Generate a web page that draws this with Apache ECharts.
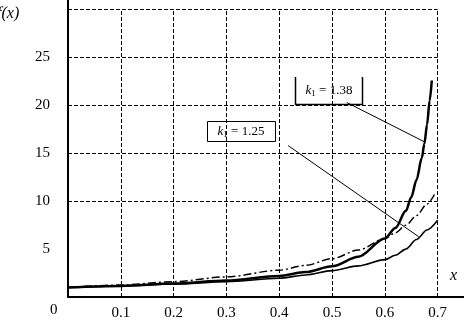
<!DOCTYPE html>
<html>
<head>
<meta charset="utf-8">
<script src="https://cdn.jsdelivr.net/npm/echarts@6/dist/echarts.min.js"></script>
<style>
html, body { margin: 0; padding: 0; background: #fff; }
#chart { width: 464px; height: 321px; }
</style>
</head>
<body>
<div id="chart"></div>
<script>
// curve k1 = 1.38 (thick)
var xA = [0, 0.1, 0.2, 0.3, 0.4, 0.45, 0.5, 0.55, 0.6, 0.62, 0.64, 0.65, 0.66, 0.67, 0.675, 0.68, 0.685, 0.689];
var yA = [1, 1.16, 1.4, 1.72, 2.2, 2.6, 3.2, 4.2, 6.1, 7.2, 9.0, 10.4, 12.2, 14.5, 16, 18, 20.5, 22.6];
// curve k1 = 1.25 (thin)
var xB = [0, 0.1, 0.2, 0.3, 0.4, 0.45, 0.5, 0.55, 0.6, 0.62, 0.64, 0.66, 0.68, 0.7];
var yB = [1, 1.15, 1.35, 1.6, 1.95, 2.3, 2.75, 3.25, 3.9, 4.35, 5.0, 6.0, 7.0, 8.0];
// dash-dot curve
var xC = [0, 0.1, 0.2, 0.3, 0.4, 0.45, 0.5, 0.55, 0.6, 0.62, 0.64, 0.66, 0.68, 0.694];
var yC = [1, 1.25, 1.6, 2.1, 2.8, 3.3, 4.0, 4.9, 6.1, 6.7, 7.5, 8.5, 9.7, 10.7];

var xGrid = [0.1, 0.2, 0.3, 0.4, 0.5, 0.6, 0.7];
var yGrid = [10, 15, 20, 25, 30];

// leader lines: [from, to] in data coords
var leader138 = [[0.528, 20.3], [0.675, 16.2]];
var leader125 = [[0.417, 15.8], [0.664, 6.3]];

function pairs(xs, ys) {
  return xs.map(function (x, i) { return [x, ys[i]]; });
}

var gridLines = [];
yGrid.forEach(function (v) { gridLines.push([{ coord: [0, v] }, { coord: [0.7, v] }]); });
xGrid.forEach(function (v) { gridLines.push([{ coord: [v, 0] }, { coord: [v, 30] }]); });

var font = 'Liberation Serif';
var boxRich = {
  k: { fontFamily: font, fontSize: 13, fontStyle: 'italic', fill: '#000' },
  n: { fontFamily: font, fontSize: 13, fill: '#000' },
  s: { fontFamily: font, fontSize: 9, fill: '#000', padding: [6, 0, 0, 0] }
};

var chart = echarts.init(document.getElementById('chart'));
chart.setOption({
  animation: false,
  grid: { left: 68, right: 0, top: 0, bottom: 22 },
  xAxis: {
    type: 'value', min: 0, max: 0.75, interval: 0.1,
    splitLine: { show: false },
    axisTick: { show: false },
    axisLine: { lineStyle: { color: '#000', width: 2 } },
    axisLabel: {
      color: '#000', fontFamily: font, fontSize: 15, margin: 9,
      showMaxLabel: false,
      formatter: function (v) { return (v > 0.01 && v < 0.71) ? v.toFixed(1) : ''; }
    }
  },
  yAxis: {
    type: 'value', min: 0, max: 31, interval: 5,
    splitLine: { show: false },
    axisTick: { show: false },
    axisLine: { lineStyle: { color: '#000', width: 2 } },
    axisLabel: {
      color: '#000', fontFamily: font, fontSize: 15, margin: 18,
      formatter: function (v) { return (v > 0 && v < 30) ? String(v) : ''; }
    }
  },
  series: [
    {
      type: 'line', data: pairs(xB, yB), showSymbol: false, smooth: 0.3, smoothMonotone: 'x',
      lineStyle: { color: '#000', width: 1.6 },
      markLine: {
        silent: true, symbol: ['none', 'none'], label: { show: false },
        lineStyle: { color: '#000', width: 1, type: [4, 2] },
        data: gridLines
      }
    },
    {
      type: 'line', data: pairs(xC, yC), showSymbol: false, smooth: 0.3, smoothMonotone: 'x',
      lineStyle: { color: '#000', width: 1.5, type: [8, 3, 2, 3] }
    },
    {
      type: 'line', data: pairs(xA, yA), showSymbol: false, smooth: 0.3, smoothMonotone: 'x',
      lineStyle: { color: '#000', width: 2.5 },
      markLine: {
        silent: true, symbol: ['none', 'none'], label: { show: false },
        lineStyle: { color: '#000', width: 1, type: 'solid' },
        data: [
          [{ coord: leader138[0] }, { coord: leader138[1] }],
          [{ coord: leader125[0] }, { coord: leader125[1] }]
        ]
      }
    }
  ],
  graphic: [
    { type: 'text', left: -3, top: 6, style: { text: 'f(x)', font: 'italic 16px "Liberation Serif"', fill: '#000' } },
    { type: 'text', left: 50, top: 303, style: { text: '0', font: '15px "Liberation Serif"', fill: '#000' } },
    { type: 'text', left: 450, top: 268, style: { text: 'x', font: 'italic 16px "Liberation Serif"', fill: '#000' } },
    { type: 'polyline', shape: { points: [[295.5, 77], [295.5, 104.5], [362.5, 104.5], [362.5, 77]] },
      style: { stroke: '#000', lineWidth: 1.5, fill: null } },
    { type: 'text', x: 329, y: 91, style: { text: '{k|k}{s|1}{n| = 1.38}', rich: boxRich, align: 'center', verticalAlign: 'middle' } },
    { type: 'rect', shape: { x: 207.5, y: 121.5, width: 68, height: 20 },
      style: { stroke: '#000', lineWidth: 1, fill: '#fff' } },
    { type: 'text', x: 241, y: 131.5, style: { text: '{k|k}{s|1}{n| = 1.25}', rich: boxRich, align: 'center', verticalAlign: 'middle' } }
  ]
});
</script>
</body>
</html>
